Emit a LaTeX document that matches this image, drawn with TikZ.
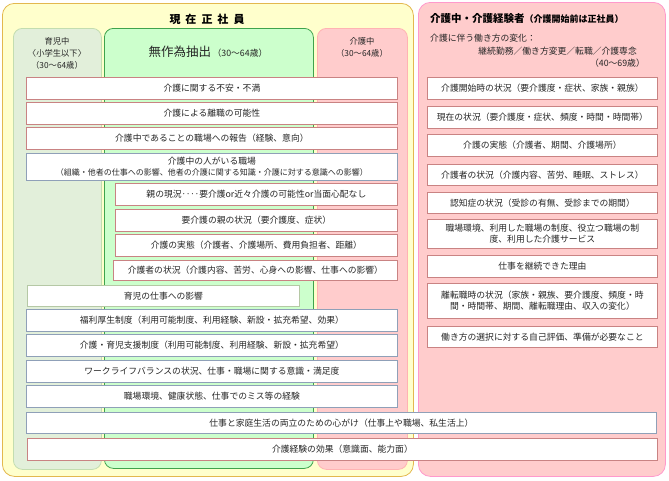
\documentclass[tikz,border=0pt]{standalone}
\usepackage{fontspec}
\setmainfont{Noto Sans CJK JP}
\usetikzlibrary{positioning}
\definecolor{Crema}{HTML}{FFFFCC}
\definecolor{Oro}{HTML}{E3B84E}
\definecolor{Salvia}{HTML}{E2EFDA}
\definecolor{SalviaBorde}{HTML}{C3DDB0}
\definecolor{Menta}{HTML}{CCFFCC}
\definecolor{Verde}{HTML}{3FA34D}
\definecolor{Rosa}{HTML}{FFCCCC}
\definecolor{RosaBorde}{HTML}{FFB3B3}
\definecolor{Fucsia}{HTML}{FF99CC}
\definecolor{Ladrillo}{HTML}{C98383}
\definecolor{Pizarra}{HTML}{8FA0B8}
\definecolor{Oliva}{HTML}{B5C8A5}
\definecolor{Texto}{HTML}{262626}

\begin{document}
\begin{tikzpicture}[x=1pt,y=-1pt,
  every node/.style={align=center,inner sep=0pt,text=Texto,font=\fontsize{8.8}{11}\selectfont},
  zona/.style={anchor=north west,rounded corners=9pt,line width=0.8pt},
  fila/.style={draw=Ladrillo,fill=white,anchor=north west,line width=0.8pt,minimum height=22pt},
  filaazul/.style={fila,draw=Pizarra},
  ancha/.style={minimum width=371pt},
  derecha/.style={fila,minimum width=230pt}]
\useasboundingbox (0,0) rectangle (669,480);
% columnas de fondo
\node[zona,draw=Oro,fill=Crema,minimum width=411pt,minimum height=473pt,rounded corners=12pt] (actual) at (2,3) {};
\node[font=\bfseries\fontsize{11}{13}\selectfont,text=black] (tactual) at (207,19) {現\hspace{5pt}在\hspace{5pt}正\hspace{5pt}社\hspace{5pt}員};
\node[zona,draw=SalviaBorde,fill=Salvia,minimum width=88pt,minimum height=441pt] (ikuji) at (13,28) {};
\node[font=\fontsize{8.3}{12}\selectfont] (tikuji) at (57,53) {育児中\\〈小学生以下〉\\（30〜64歳）};
\node[zona,draw=Verde,fill=Menta,minimum width=209pt,minimum height=440pt] (muestra) at (104,28) {};
\node (tmuestra) at (208,52) {{\fontsize{12.5}{14}\selectfont 無作為抽出}\,（30〜64歳）};
\node[zona,draw=RosaBorde,fill=Rosa,minimum width=90pt,minimum height=441pt] (kaigo) at (317,28) {};
\node[font=\fontsize{8.3}{12}\selectfont] (tkaigo) at (362,47) {介護中\\（30〜64歳）};
\node[zona,draw=Fucsia,fill=Rosa,minimum width=247pt,minimum height=474pt,rounded corners=12pt] (keiken) at (418,2) {};
\node[anchor=west,font=\bfseries\fontsize{10.5}{12}\selectfont,text=black] (tkeiken) at (430,19) {介護中・介護経験者{\fontsize{9}{11}\selectfont（介護開始前は正社員）}};
\node[anchor=west] (cambio) at (430,38) {介護に伴う働き方の変化：};
\node[anchor=east] (tipos) at (637,51) {継続勤務／働き方変更／転職／介護専念};
\node[anchor=east] (edad) at (645,63) {（40〜69歳）};
% filas de la izquierda
\node[fila,ancha] (r1) at (26,77) {介護に関する不安・不満};
\node[fila,ancha] (r2) at (26,102) {介護による離職の可能性};
\node[fila,ancha] (r3) at (26,127) {介護中であることの職場への報告（経験、意向）};
\node[filaazul,ancha,minimum height=27pt] (r4) at (26,153) {介護中の人がいる職場\\{\fontsize{8}{10}\selectfont（組織・他者の仕事への影響、他者の介護に関する知識・介護に対する意識への影響）}};
\node[fila,minimum width=282pt] (r5) at (115,183) {親の現況‥‥要介護or近々介護の可能性or当面心配なし};
\node[fila,minimum width=282pt] (r6) at (115,209) {要介護の親の状況（要介護度、症状）};
\node[fila,minimum width=282pt] (r7) at (115,234) {介護の実態（介護者、介護場所、費用負担者、距離）};
\node[fila,minimum width=284pt,minimum height=20pt] (r8) at (113,260) {介護者の状況（介護内容、苦労、心身への影響、仕事への影響）};
\node[fila,draw=Oliva,minimum width=272pt,minimum height=21pt] (r9) at (27,285) {育児の仕事への影響};
\node[filaazul,ancha] (r10) at (26,309) {福利厚生制度（利用可能制度、利用経験、新設・拡充希望、効果）};
\node[filaazul,ancha] (r11) at (26,334) {介護・育児支援制度（利用可能制度、利用経験、新設・拡充希望）};
\node[filaazul,ancha] (r12) at (26,360) {ワークライフバランスの状況、仕事・職場に関する意識・満足度};
\node[filaazul,ancha] (r13) at (26,385) {職場環境、健康状態、仕事でのミス等の経験};
\node[filaazul,minimum width=630pt,minimum height=21pt] (r14) at (26,412) {仕事と家庭生活の両立のための心がけ（仕事上や職場、私生活上）};
\node[fila,minimum width=630pt] (r15) at (27,438) {介護経験の効果（意識面、能力面）};
% filas de la derecha
\node[derecha] (d1) at (427,77) {介護開始時の状況（要介護度・症状、家族・親族）};
\node[derecha] (d2) at (427,106) {現在の状況（要介護度・症状、頻度・時間・時間帯）};
\node[derecha] (d3) at (427,134) {介護の実態（介護者、期間、介護場所）};
\node[derecha,minimum height=21pt] (d4) at (427,164) {介護者の状況（介護内容、苦労、睡眠、ストレス）};
\node[derecha,minimum height=21pt] (d5) at (427,192) {認知症の状況（受診の有無、受診までの期間）};
\node[derecha,minimum height=29pt] (d6) at (427,219) {職場環境、利用した職場の制度、役立つ職場の制\\度、利用した介護サービス};
\node[derecha] (d7) at (427,255) {仕事を継続できた理由};
\node[derecha,minimum height=35pt] (d8) at (427,283) {離転職時の状況（家族・親族、要介護度、頻度・時\\間・時間帯、期間、離転職理由、収入の変化）};
\node[derecha,minimum height=21pt] (d9) at (427,326) {働き方の選択に対する自己評価、準備が必要なこと};
\end{tikzpicture}
\end{document}
